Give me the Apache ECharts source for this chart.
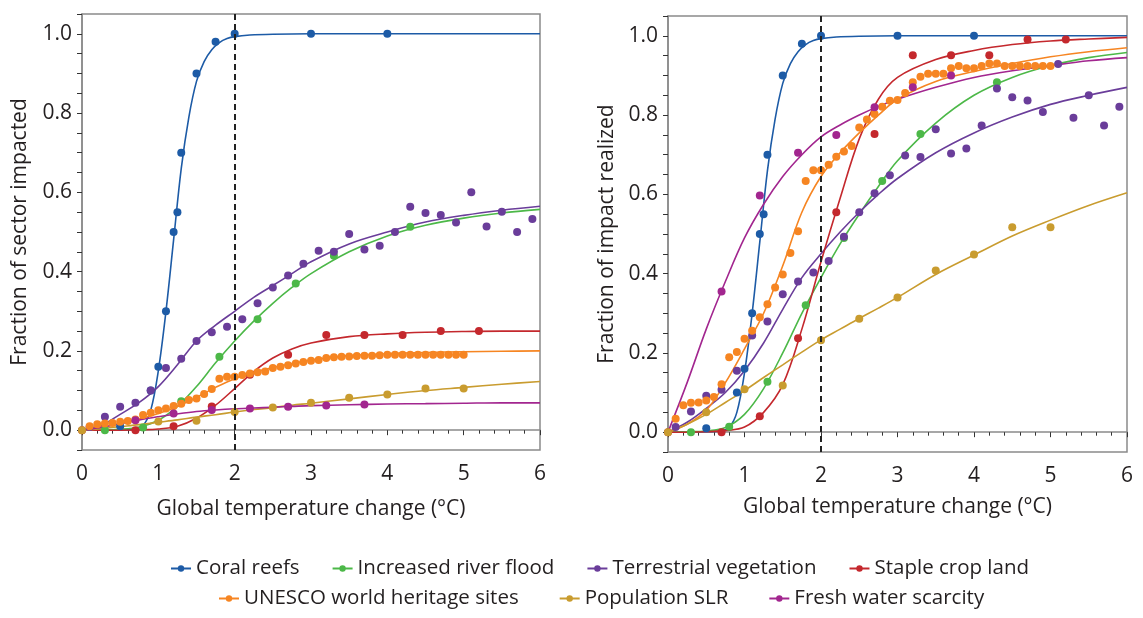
<!DOCTYPE html>
<html>
<head>
<meta charset="utf-8">
<title>Sector impacts vs warming</title>
<script src="https://cdn.jsdelivr.net/npm/echarts@6/dist/echarts.min.js"></script>
<style>
  html, body { margin: 0; padding: 0; background: #fff; }
  #chart { width: 1143px; height: 618px; }
</style>
</head>
<body>
<div id="chart"></div>
<script>
// x positions of the fitted curves
var tCurve = [0, 0.25, 0.5, 0.75, 1, 1.25, 1.5, 1.75, 2, 2.25, 2.5, 2.75, 3, 3.5, 4, 4.5, 5, 5.5, 6];
var tCoralCurve = [0, 0.5, 0.7, 0.8, 0.9, 1, 1.1, 1.2, 1.3, 1.4, 1.5, 1.6, 1.7, 1.8, 1.9, 2, 2.2, 2.5, 3, 4, 5, 6];

// coral reefs (same in both panels)
var tCoral = [0.5, 0.9, 1, 1.1, 1.2, 1.25, 1.3, 1.5, 1.75, 2, 3, 4];
var coralPts = [0.01, 0.10, 0.16, 0.30, 0.50, 0.55, 0.70, 0.90, 0.98, 1, 1, 1];
var coralFit = [0, 0.001, 0.004, 0.012, 0.05, 0.15, 0.30, 0.48, 0.66, 0.79, 0.88, 0.93, 0.96, 0.978, 0.988, 0.993, 0.997, 0.999, 1, 1, 1, 1];

// increased river flood
var tFlood = [0.3, 0.8, 1.3, 1.8, 2.3, 2.8, 3.3, 4.3];
var floodSector = [0, 0.007, 0.073, 0.185, 0.28, 0.37, 0.44, 0.513];
var floodRealized = [0, 0.014, 0.127, 0.32, 0.49, 0.634, 0.752, 0.883];
var floodSectorFit = [0, 0, 0.002, 0.008, 0.025, 0.06, 0.11, 0.17, 0.225, 0.275, 0.32, 0.36, 0.395, 0.45, 0.49, 0.517, 0.535, 0.548, 0.557];
var floodRealizedFit = [0, 0.001, 0.003, 0.012, 0.045, 0.11, 0.20, 0.30, 0.39, 0.475, 0.55, 0.62, 0.685, 0.78, 0.85, 0.895, 0.925, 0.945, 0.958];

// terrestrial vegetation
var tVeg = [0.1, 0.3, 0.5, 0.7, 0.9, 1.1, 1.3, 1.5, 1.7, 1.9, 2.1, 2.3, 2.5, 2.7, 2.9, 3.1, 3.3, 3.5, 3.7, 3.9, 4.1, 4.3, 4.5, 4.7, 4.9, 5.1, 5.3, 5.5, 5.7, 5.9];
var vegSector = [0.008, 0.034, 0.059, 0.069, 0.10, 0.157, 0.18, 0.225, 0.247, 0.261, 0.28, 0.32, 0.36, 0.39, 0.42, 0.453, 0.45, 0.495, 0.456, 0.465, 0.50, 0.564, 0.548, 0.543, 0.524, 0.60, 0.514, 0.551, 0.50, 0.533];
var vegRealized = [0.013, 0.052, 0.092, 0.107, 0.155, 0.244, 0.279, 0.348, 0.38, 0.403, 0.432, 0.493, 0.555, 0.603, 0.648, 0.698, 0.694, 0.764, 0.703, 0.716, 0.774, 0.867, 0.845, 0.837, 0.808, 0.929, 0.793, 0.85, 0.774, 0.821];
var vegSectorFit = [0, 0.012, 0.04, 0.07, 0.11, 0.165, 0.225, 0.265, 0.30, 0.335, 0.365, 0.395, 0.425, 0.47, 0.50, 0.525, 0.542, 0.555, 0.565];
var vegRealizedFit = [0, 0.025, 0.06, 0.10, 0.155, 0.225, 0.31, 0.39, 0.45, 0.505, 0.555, 0.60, 0.64, 0.705, 0.755, 0.795, 0.827, 0.85, 0.87];

// staple crop land
var tCrop = [0, 0.7, 1.2, 1.7, 2.2, 2.7, 3.2, 3.7, 4.2, 4.7, 5.2];
var cropSector = [0, 0, 0.01, 0.06, 0.14, 0.19, 0.24, 0.24, 0.24, 0.25, 0.25];
var cropRealized = [0, 0, 0.04, 0.237, 0.555, 0.752, 0.951, 0.951, 0.951, 0.991, 0.991];
var cropSectorFit = [0, 0, 0, 0.001, 0.003, 0.01, 0.03, 0.063, 0.105, 0.148, 0.182, 0.205, 0.22, 0.236, 0.243, 0.247, 0.249, 0.25, 0.25];
var cropRealizedFit = [0, 0, 0.001, 0.004, 0.013, 0.05, 0.12, 0.26, 0.43, 0.59, 0.74, 0.84, 0.895, 0.94, 0.963, 0.978, 0.987, 0.992, 0.996];

// UNESCO world heritage sites
var tUnesco = [0.1, 0.2, 0.3, 0.4, 0.5, 0.6, 0.7, 0.8, 0.9, 1.0,
               1.1, 1.2, 1.3, 1.4, 1.5, 1.6, 1.7, 1.8, 1.9, 2.0,
               2.1, 2.2, 2.3, 2.4, 2.5, 2.6, 2.7, 2.8, 2.9, 3.0,
               3.1, 3.2, 3.3, 3.4, 3.5, 3.6, 3.7, 3.8, 3.9, 4.0,
               4.1, 4.2, 4.3, 4.4, 4.5, 4.6, 4.7, 4.8, 4.9, 5.0];
var unescoSector = [0.01, 0.015, 0.017, 0.018, 0.021, 0.023, 0.027, 0.038, 0.044, 0.05,
                    0.055, 0.061, 0.067, 0.076, 0.08, 0.091, 0.104, 0.13, 0.135, 0.135,
                    0.139, 0.143, 0.146, 0.148, 0.157, 0.16, 0.164, 0.168, 0.172, 0.175,
                    0.177, 0.182, 0.184, 0.185, 0.186, 0.187, 0.188, 0.188, 0.189, 0.19,
                    0.19, 0.19, 0.19, 0.19, 0.19, 0.19, 0.19, 0.19, 0.19, 0.19];
var unescoRealized = [0.034, 0.068, 0.074, 0.075, 0.08, 0.089, 0.121, 0.189, 0.202, 0.236,
                      0.256, 0.29, 0.323, 0.365, 0.398, 0.452, 0.507, 0.634, 0.661, 0.661,
                      0.675, 0.695, 0.708, 0.722, 0.769, 0.789, 0.803, 0.821, 0.836, 0.838,
                      0.856, 0.883, 0.897, 0.904, 0.904, 0.904, 0.918, 0.924, 0.918, 0.918,
                      0.924, 0.93, 0.93, 0.924, 0.924, 0.924, 0.924, 0.924, 0.924, 0.924];
var unescoSectorFit = [0, 0.008, 0.017, 0.028, 0.042, 0.06, 0.083, 0.108, 0.13, 0.146, 0.158, 0.168, 0.177, 0.188, 0.193, 0.196, 0.198, 0.199, 0.2];
var unescoRealizedFit = [0, 0.02, 0.055, 0.125, 0.21, 0.30, 0.42, 0.555, 0.645, 0.705, 0.755, 0.80, 0.84, 0.885, 0.91, 0.93, 0.947, 0.96, 0.97];

// population SLR
var tSlrSector = [0, 1, 1.5, 2, 2.5, 3, 3.5, 4, 4.5, 5];
var slrSector = [0, 0.022, 0.024, 0.046, 0.057, 0.069, 0.082, 0.09, 0.105, 0.105];
var tSlrRealized = [0, 0.5, 1, 1.5, 2, 2.5, 3, 3.5, 4, 4.5, 5];
var slrRealized = [0, 0.05, 0.108, 0.118, 0.232, 0.286, 0.34, 0.408, 0.448, 0.517, 0.517];
var slrSectorFit = [0, 0.004, 0.009, 0.014, 0.02, 0.026, 0.033, 0.039, 0.046, 0.052, 0.057, 0.063, 0.068, 0.079, 0.09, 0.1, 0.108, 0.116, 0.123];
var slrRealizedFit = [0, 0.02, 0.045, 0.075, 0.105, 0.138, 0.17, 0.202, 0.233, 0.26, 0.287, 0.313, 0.34, 0.398, 0.447, 0.495, 0.535, 0.572, 0.604];

// fresh water scarcity
var tWater = [0.7, 1.2, 1.7, 2.2, 2.7, 3.2, 3.7];
var waterSector = [0.025, 0.042, 0.051, 0.055, 0.059, 0.062, 0.065];
var waterRealized = [0.355, 0.597, 0.705, 0.75, 0.82, 0.87, 0.90];
var waterSectorFit = [0, 0.007, 0.016, 0.026, 0.034, 0.041, 0.047, 0.051, 0.054, 0.056, 0.058, 0.06, 0.062, 0.064, 0.066, 0.067, 0.068, 0.069, 0.069];
var waterRealizedFit = [0, 0.125, 0.26, 0.38, 0.49, 0.575, 0.645, 0.70, 0.745, 0.775, 0.80, 0.822, 0.84, 0.87, 0.895, 0.912, 0.925, 0.937, 0.945];

var legendRow1 = ['Coral reefs', 'Increased river flood', 'Terrestrial vegetation', 'Staple crop land'];
var legendRow2 = ['UNESCO world heritage sites', 'Population SLR', 'Fresh water scarcity'];

function pairs(xs, ys) {
    return xs.map(function (x, i) { return [x, ys[i]]; });
}

// per sector: colour, [left panel, right panel] as [pointX, pointY, fitX, fitY]
var sectors = [
    { name: 'Coral reefs', color: '#1d5ba6',
      panels: [[tCoral, coralPts, tCoralCurve, coralFit], [tCoral, coralPts, tCoralCurve, coralFit]] },
    { name: 'Increased river flood', color: '#4cb848',
      panels: [[tFlood, floodSector, tCurve, floodSectorFit], [tFlood, floodRealized, tCurve, floodRealizedFit]] },
    { name: 'Terrestrial vegetation', color: '#6a3d9a',
      panels: [[tVeg, vegSector, tCurve, vegSectorFit], [tVeg, vegRealized, tCurve, vegRealizedFit]] },
    { name: 'Staple crop land', color: '#c4282d',
      panels: [[tCrop, cropSector, tCurve, cropSectorFit], [tCrop, cropRealized, tCurve, cropRealizedFit]] },
    { name: 'UNESCO world heritage sites', color: '#f68522',
      panels: [[tUnesco, unescoSector, tCurve, unescoSectorFit], [tUnesco, unescoRealized, tCurve, unescoRealizedFit]] },
    { name: 'Population SLR', color: '#c99c2f',
      panels: [[tSlrSector, slrSector, tCurve, slrSectorFit], [tSlrRealized, slrRealized, tCurve, slrRealizedFit]] },
    { name: 'Fresh water scarcity', color: '#a2268f',
      panels: [[tWater, waterSector, tCurve, waterSectorFit], [tWater, waterRealized, tCurve, waterRealizedFit]] }
];

var FONT = 'Open Sans';
var TXT = '#231f20';
var AXIS = '#8a8a8a';

function xAxisFor(i) {
    return {
        type: 'value', gridIndex: i, min: 0, max: 6, interval: 1,
        name: 'Global temperature change (\u00b0C)', nameLocation: 'middle', nameGap: i ? 45 : 49,
        nameTextStyle: { fontFamily: FONT, fontSize: 21, color: TXT },
        axisLine: { lineStyle: { color: AXIS, width: 1.5 } },
        axisTick: { length: 5, lineStyle: { color: '#333' } },
        minorTick: { show: true, splitNumber: 5, length: 3.5, lineStyle: { color: '#333' } },
        axisLabel: { fontFamily: FONT, fontSize: 21, color: TXT, margin: 14 },
        splitLine: { show: false }
    };
}

function yAxisFor(i, title) {
    return {
        type: 'value', gridIndex: i, min: -0.05, max: 1.05, interval: 0.05,
        name: title, nameLocation: 'middle', nameGap: i ? 50 : 51,
        nameTextStyle: { fontFamily: FONT, fontSize: 21, color: TXT },
        axisLine: { show: true, lineStyle: { color: AXIS, width: 1.5 } },
        axisTick: { show: true, length: 5, lineStyle: { color: '#333' } },
        axisLabel: {
            fontFamily: FONT, fontSize: 21, color: TXT, margin: 10,
            formatter: function (v) {
                var k = Math.round(v * 100);
                return (k % 20 === 0) ? (k / 100).toFixed(1) : '';
            }
        },
        splitLine: { show: false }
    };
}

var lines = [], dots = [];
[0, 1].forEach(function (p) {
    sectors.forEach(function (s, k) {
        var d = s.panels[p];
        var line = {
            name: s.name, type: 'line', xAxisIndex: p, yAxisIndex: p,
            data: pairs(d[2], d[3]),
            smooth: 0.35,
            symbol: 'circle', symbolSize: 7, showSymbol: false,
            itemStyle: { color: s.color },
            lineStyle: { color: s.color, width: 1.6 },
            silent: true, z: 2
        };
        if (k === 0) {
            line.markLine = {
                silent: true, symbol: 'none', label: { show: false },
                lineStyle: { color: '#222', type: [6, 4], width: 2 },
                data: [{ xAxis: 2 }]
            };
        }
        lines.push(line);
        dots.push({
            name: s.name, type: 'scatter', xAxisIndex: p, yAxisIndex: p,
            data: pairs(d[0], d[1]),
            symbol: 'circle', symbolSize: 8,
            itemStyle: { color: s.color, opacity: 1 },
            silent: true, z: 3
        });
    });
});

function legendFor(names, left, top, gap) {
    return {
        data: names, left: left, top: top, orient: 'horizontal',
        itemWidth: 20, itemHeight: 8, itemGap: gap, itemTextGap: 10,
        textStyle: { fontFamily: FONT, fontSize: 20.5, color: TXT },
        selectedMode: false
    };
}

var chart = echarts.init(document.getElementById('chart'), null, { renderer: 'canvas' });
chart.setOption({
    animation: false,
    backgroundColor: '#fff',
    grid: [
        { left: 82, top: 14, width: 458, height: 436, show: true, borderColor: AXIS, borderWidth: 1.5 },
        { left: 668, top: 16, width: 459, height: 436, show: true, borderColor: AXIS, borderWidth: 1.5 }
    ],
    xAxis: [xAxisFor(0), xAxisFor(1)],
    yAxis: [yAxisFor(0, 'Fraction of sector impacted'), yAxisFor(1, 'Fraction of impact realized')],
    legend: [legendFor(legendRow1, 165, 553, 32), legendFor(legendRow2, 213, 583, 40)],
    series: lines.concat(dots)
});
</script>
</body>
</html>
